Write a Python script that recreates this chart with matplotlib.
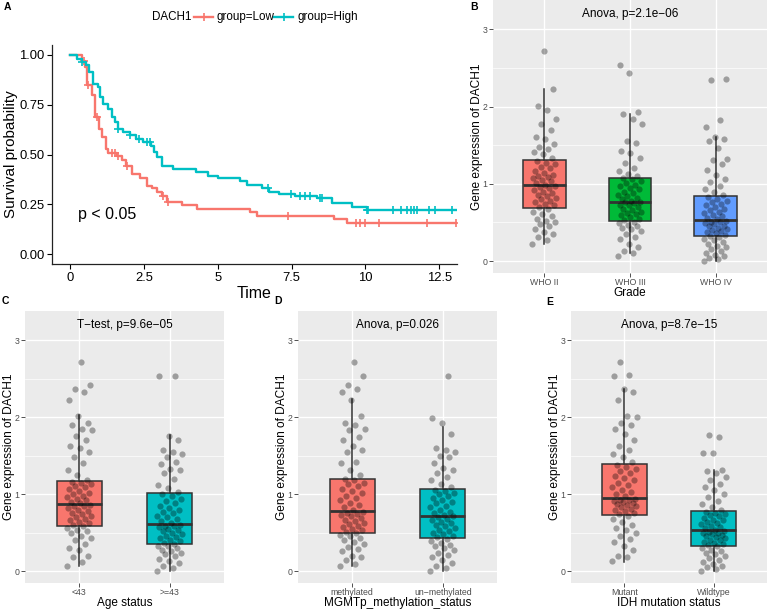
import numpy as np
import matplotlib.pyplot as plt
from matplotlib.lines import Line2D

plt.rcParams['font.family'] = ['Liberation Sans', 'DejaVu Sans']

W, H = 769, 610
RED, CYAN, GREEN, BLUE = '#F8766D', '#00BFC4', '#00BA38', '#619CFF'

# ---- Kaplan-Meier curves ----
low_t = [0, 0.40, 0.50, 0.59, 0.73, 0.85, 0.99, 1.07, 1.22, 1.30, 1.58, 1.75, 1.89, 2.09, 2.37, 2.59,
         2.76, 2.93, 3.12, 3.27, 3.79, 4.29, 6.10, 6.33, 8.93, 9.38, 13.1]
low_s = [1.00, 0.97, 0.94, 0.85, 0.80, 0.69, 0.63, 0.59, 0.53, 0.51, 0.49, 0.47, 0.44, 0.40, 0.38, 0.34,
         0.33, 0.31, 0.29, 0.263, 0.246, 0.226, 0.21, 0.191, 0.174, 0.157, 0.157]
low_cens = [0.47, 0.62, 0.90, 1.41, 1.52, 1.63, 1.92, 3.16, 3.33, 7.37, 9.69, 9.83, 10.0, 10.46, 12.07, 13.05]

high_t = [0, 0.23, 0.39, 0.54, 0.65, 0.79, 0.94, 1.01, 1.13, 1.30, 1.41, 1.52, 1.63, 1.80, 2.03, 2.25,
          2.48, 2.73, 2.84, 2.95, 3.10, 3.49, 4.28, 4.68, 5.02, 5.75, 5.99, 6.50, 6.72, 7.06, 7.63, 8.36,
          8.87, 9.55, 10.06, 13.1]
high_s = [1.00, 0.98, 0.965, 0.948, 0.914, 0.856, 0.84, 0.789, 0.755, 0.73, 0.688, 0.663, 0.63, 0.612, 0.596, 0.579,
          0.562, 0.545, 0.512, 0.487, 0.44, 0.428, 0.411, 0.394, 0.383, 0.366, 0.347, 0.33, 0.313, 0.30, 0.29, 0.28,
          0.255, 0.238, 0.221, 0.221]
high_cens = [0.39, 1.63, 2.03, 2.35, 2.60, 2.70, 6.69, 7.48, 7.77, 7.97, 8.14, 8.47, 8.53, 10.06, 10.10,
             10.94, 11.19, 11.41, 11.53, 11.63, 11.75, 12.14, 12.37, 12.94]

# ---- boxplot panels: box stats and points ----
grade_groups = ['WHO II', 'WHO III', 'WHO IV']
grade_q1 = [0.69, 0.52, 0.32]
grade_med = [0.98, 0.77, 0.53]
grade_q3 = [1.31, 1.08, 0.84]
grade_lo = [0.22, 0.10, 0.00]
grade_hi = [2.23, 1.90, 1.60]
who2 = [0.22, 0.27, 0.31, 0.35, 0.38, 0.41, 0.45, 0.48, 0.50, 0.52, 0.55, 0.58, 0.61, 0.64, 0.67,
        0.70, 0.72, 0.74, 0.76, 0.78, 0.80, 0.82, 0.84, 0.86, 0.88, 0.90, 0.92, 0.94, 0.96, 0.97,
        0.99, 1.01, 1.03, 1.05, 1.07, 1.09, 1.10, 1.12, 1.14, 1.17, 1.20, 1.22, 1.25, 1.27, 1.30,
        1.34, 1.38, 1.41, 1.45, 1.48, 1.52, 1.58, 1.60, 1.70, 1.78, 1.84, 1.96, 2.01, 2.23, 2.72]
who3 = [0.07, 0.10, 0.13, 0.18, 0.22, 0.28, 0.31, 0.35, 0.39, 0.41, 0.43, 0.45, 0.47, 0.49, 0.51,
        0.53, 0.55, 0.57, 0.59, 0.61, 0.62, 0.64, 0.66, 0.68, 0.70, 0.72, 0.73, 0.75, 0.76, 0.77,
        0.78, 0.80, 0.82, 0.84, 0.86, 0.88, 0.90, 0.93, 0.95, 0.97, 0.99, 1.01, 1.04, 1.06, 1.07,
        1.10, 1.13, 1.16, 1.21, 1.27, 1.33, 1.40, 1.43, 1.53, 1.55, 1.78, 1.84, 1.90, 1.93, 2.43, 2.54]
who4 = [0.00, 0.02, 0.04, 0.06, 0.08, 0.11, 0.13, 0.16, 0.18, 0.20, 0.22, 0.24, 0.27, 0.29, 0.31,
        0.33, 0.34, 0.36, 0.37, 0.39, 0.40, 0.42, 0.43, 0.45, 0.46, 0.48, 0.49, 0.50, 0.51, 0.52,
        0.54, 0.56, 0.58, 0.60, 0.62, 0.64, 0.66, 0.68, 0.70, 0.72, 0.74, 0.76, 0.78, 0.80, 0.83,
        0.86, 0.90, 0.93, 0.97, 1.02, 1.06, 1.11, 1.18, 1.25, 1.31, 1.32, 1.47, 1.55, 1.58, 1.60,
        1.74, 1.82, 2.34, 2.36]

age_groups = ['<43', '>=43']
age_q1 = [0.59, 0.355]
age_med = [0.87, 0.61]
age_q3 = [1.17, 1.01]
age_lo = [0.06, 0.00]
age_hi = [2.03, 1.77]
age_young = [0.06, 0.12, 0.18, 0.20, 0.27, 0.30, 0.35, 0.40, 0.43, 0.46, 0.49, 0.52, 0.53, 0.56, 0.58,
             0.60, 0.62, 0.64, 0.66, 0.68, 0.70, 0.72, 0.74, 0.76, 0.78, 0.80, 0.82, 0.84, 0.85, 0.86,
             0.88, 0.90, 0.92, 0.94, 0.96, 0.98, 1.00, 1.02, 1.04, 1.07, 1.09, 1.11, 1.13, 1.15, 1.16,
             1.19, 1.25, 1.31, 1.40, 1.48, 1.55, 1.60, 1.62, 1.70, 1.76, 1.83, 1.85, 1.90, 1.92, 2.02,
             2.22, 2.33, 2.36, 2.42, 2.72]
age_old = [0.00, 0.04, 0.07, 0.10, 0.13, 0.16, 0.19, 0.22, 0.24, 0.26, 0.28, 0.30, 0.32, 0.33, 0.35,
           0.37, 0.39, 0.41, 0.43, 0.44, 0.46, 0.48, 0.50, 0.52, 0.53, 0.55, 0.57, 0.58, 0.59, 0.60,
           0.62, 0.65, 0.68, 0.70, 0.72, 0.75, 0.77, 0.79, 0.82, 0.85, 0.88, 0.91, 0.94, 0.97, 1.00,
           1.03, 1.08, 1.12, 1.20, 1.28, 1.31, 1.33, 1.39, 1.42, 1.48, 1.52, 1.55, 1.58, 1.70, 1.76,
           2.53, 2.54]

mgmt_groups = ['methylated', 'un\u2212methylated']
mgmt_q1 = [0.50, 0.424]
mgmt_med = [0.78, 0.714]
mgmt_q3 = [1.20, 1.065]
mgmt_lo = [0.065, 0.00]
mgmt_hi = [2.23, 1.87]
mgmt_meth = [0.07, 0.09, 0.14, 0.18, 0.20, 0.26, 0.29, 0.31, 0.35, 0.38, 0.41, 0.43, 0.45, 0.47, 0.49,
             0.51, 0.53, 0.55, 0.57, 0.59, 0.61, 0.63, 0.65, 0.67, 0.69, 0.71, 0.73, 0.74, 0.76, 0.77,
             0.80, 0.83, 0.86, 0.89, 0.92, 0.95, 0.98, 1.01, 1.04, 1.07, 1.10, 1.13, 1.15, 1.18, 1.20,
             1.25, 1.32, 1.40, 1.42, 1.55, 1.57, 1.62, 1.70, 1.74, 1.83, 1.85, 1.90, 1.92, 2.02, 2.22,
             2.33, 2.36, 2.42, 2.53, 2.72]
mgmt_unmeth = [0.00, 0.04, 0.07, 0.11, 0.14, 0.18, 0.21, 0.24, 0.27, 0.30, 0.32, 0.34, 0.37, 0.39, 0.42,
               0.44, 0.46, 0.48, 0.50, 0.52, 0.54, 0.56, 0.58, 0.60, 0.62, 0.64, 0.66, 0.68, 0.70, 0.71,
               0.73, 0.75, 0.77, 0.80, 0.83, 0.85, 0.88, 0.90, 0.93, 0.95, 0.98, 1.00, 1.02, 1.04, 1.06,
               1.09, 1.13, 1.18, 1.22, 1.27, 1.31, 1.34, 1.40, 1.48, 1.50, 1.55, 1.58, 1.60, 1.78, 1.93,
               1.99, 2.54]

idh_groups = ['Mutant', 'Wildtype']
idh_q1 = [0.723, 0.33]
idh_med = [0.952, 0.528]
idh_q3 = [1.39, 0.775]
idh_lo = [0.12, 0.00]
idh_hi = [2.36, 1.31]
idh_mut = [0.13, 0.18, 0.20, 0.28, 0.32, 0.38, 0.42, 0.45, 0.50, 0.53, 0.56, 0.60, 0.64, 0.68, 0.71,
           0.74, 0.76, 0.78, 0.79, 0.81, 0.83, 0.84, 0.86, 0.87, 0.89, 0.90, 0.91, 0.92, 0.93, 0.94,
           0.97, 1.00, 1.03, 1.06, 1.09, 1.12, 1.15, 1.18, 1.21, 1.24, 1.27, 1.30, 1.33, 1.35, 1.38,
           1.42, 1.48, 1.52, 1.57, 1.62, 1.70, 1.78, 1.85, 1.90, 1.92, 2.00, 2.02, 2.22, 2.33, 2.36,
           2.53, 2.55, 2.72]
idh_wt = [0.00, 0.03, 0.05, 0.07, 0.09, 0.12, 0.14, 0.17, 0.19, 0.22, 0.24, 0.26, 0.28, 0.30, 0.32,
          0.34, 0.35, 0.37, 0.38, 0.40, 0.41, 0.43, 0.44, 0.46, 0.47, 0.48, 0.49, 0.50, 0.51, 0.52,
          0.54, 0.56, 0.57, 0.59, 0.61, 0.62, 0.64, 0.66, 0.67, 0.69, 0.71, 0.73, 0.74, 0.76, 0.77,
          0.80, 0.83, 0.87, 0.91, 0.96, 1.00, 1.05, 1.09, 1.13, 1.18, 1.22, 1.28, 1.30, 1.32, 1.53,
          1.54, 1.74, 1.77]


fig = plt.figure(figsize=(W / 100, H / 100), dpi=100)


def px_axes(l, t, r, b):
    return fig.add_axes([l / W, 1 - b / H, (r - l) / W, (b - t) / H])


def fx(x):
    return x / W


def fy(y):
    return 1 - y / H


# ---------------- panel A ----------------
ax = px_axes(52, 45, 457, 264)
for t, s, cens, col in [(low_t, low_s, low_cens, RED), (high_t, high_s, high_cens, CYAN)]:
    ax.step(t, s, where='post', color=col, lw=1.7)
    t_arr, s_arr = np.array(t), np.array(s)
    cy = s_arr[np.searchsorted(t_arr, cens, side='right') - 1]
    ax.plot(cens, cy, ls='none', marker='+', ms=6, mew=1.2, color=col)
ax.set_xlim(-0.61, 13.1)
ax.set_ylim(-0.05, 1.05)
ax.set_xticks([0, 2.5, 5, 7.5, 10, 12.5])
ax.set_xticklabels(['0', '2.5', '5', '7.5', '10', '12.5'])
ax.set_yticks([0, 0.25, 0.5, 0.75, 1.0])
ax.set_yticklabels(['0.00', '0.25', '0.50', '0.75', '1.00'])
ax.tick_params(labelsize=9.4, length=3.5, width=0.8, pad=2, colors='black')
for side in ['top', 'right']:
    ax.spines[side].set_visible(False)
for side in ['left', 'bottom']:
    ax.spines[side].set_linewidth(0.9)
    ax.spines[side].set_color('#222222')
ax.set_xlabel('Time', fontsize=11.5, labelpad=2)
ax.set_ylabel('Survival probability', fontsize=11, labelpad=1)
ax.text(0.27, 0.2, 'p < 0.05', fontsize=11.5, va='center')

# legend on top
fig.text(fx(152), fy(17), 'DACH1', fontsize=8.4, va='center')
for x0, x1, col, lab in [(194, 213, RED, 'group=Low'), (274, 293, CYAN, 'group=High')]:
    fig.add_artist(Line2D([fx(x0), fx((x0 + x1) / 2), fx(x1)], [fy(17)] * 3, color=col, lw=1.7,
                          marker='+', ms=6, mew=1.2, markevery=[1], transform=fig.transFigure))
    fig.text(fx(x1 + 4), fy(17), lab, fontsize=8.4, va='center')


# ---------------- box panels ----------------
def box_panel(rect, groups, data, q1, med, q3, lo, hi, colors, title, xlabel, xlim):
    ax = px_axes(*rect)
    ax.set_facecolor('#EBEBEB')
    for sp in ax.spines.values():
        sp.set_visible(False)
    pos = np.arange(1, len(groups) + 1)
    stats = [dict(q1=q1[i], med=med[i], q3=q3[i], whislo=lo[i], whishi=hi[i], label=groups[i])
             for i in range(len(groups))]
    bp = ax.bxp(stats, positions=pos, widths=0.5, patch_artist=True, showcaps=False,
                showfliers=False,
                boxprops=dict(edgecolor='#333333', lw=1.1),
                medianprops=dict(color='#333333', lw=2.0),
                whiskerprops=dict(color='#333333', lw=1.1), zorder=2)
    for patch, c in zip(bp['boxes'], colors):
        patch.set_facecolor(c)
    for p, vals in zip(pos, data):
        n = len(vals)
        offs = ((np.arange(n) * 0.6180339887) % 1.0 - 0.5) * 0.28
        ax.scatter(p + offs, vals, s=20, color='black', alpha=0.33, linewidths=0, zorder=3)
    ax.set_xlim(*xlim)
    ax.set_ylim(-0.155, 3.38)
    ax.set_yticks([0, 1, 2, 3])
    ax.set_yticks([0.5, 1.5, 2.5], minor=True)
    ax.set_xticks(pos)
    ax.set_xticklabels(groups)
    ax.grid(True, which='major', color='white', lw=1.0)
    ax.grid(True, which='minor', axis='y', color='white', lw=0.5)
    ax.set_axisbelow(True)
    ax.tick_params(which='major', labelsize=6.3, length=2.8, width=0.6, color='#333333',
                   labelcolor='#4D4D4D', pad=1.0)
    ax.tick_params(which='minor', length=0)
    ax.set_ylabel('Gene expression of DACH1', fontsize=8.6, labelpad=0)
    ax.set_xlabel(xlabel, fontsize=8.5, labelpad=-0.5)
    ax.text(np.mean(xlim), 3.2, title, ha='center', va='center', fontsize=8.5)
    return ax


box_panel((493, 0, 767, 273), grade_groups, [who2, who3, who4], grade_q1, grade_med, grade_q3,
          grade_lo, grade_hi, [RED, GREEN, BLUE], 'Anova, p=2.1e\u221206', 'Grade', (0.4, 3.6))
box_panel((25, 311, 224, 583), age_groups, [age_young, age_old], age_q1, age_med, age_q3,
          age_lo, age_hi, [RED, CYAN], 'T\u2212test, p=9.6e\u221205', 'Age status', (0.4, 2.6))
box_panel((298, 311, 497, 583), mgmt_groups, [mgmt_meth, mgmt_unmeth], mgmt_q1, mgmt_med, mgmt_q3,
          mgmt_lo, mgmt_hi, [RED, CYAN], 'Anova, p=0.026', 'MGMTp_methylation_status', (0.4, 2.6))
box_panel((571, 311, 767, 583), idh_groups, [idh_mut, idh_wt], idh_q1, idh_med, idh_q3,
          idh_lo, idh_hi, [RED, CYAN], 'Anova, p=8.7e\u221215', 'IDH mutation status', (0.4, 2.6))

# panel letters
for lab, x, y in [('A', 7, 7), ('B', 474, 7), ('C', 5, 301), ('D', 278, 301), ('E', 550, 302)]:
    fig.text(fx(x), fy(y), lab, fontsize=7.5, fontweight='bold', ha='center', va='center')

fig.savefig('out.png', dpi=100)
